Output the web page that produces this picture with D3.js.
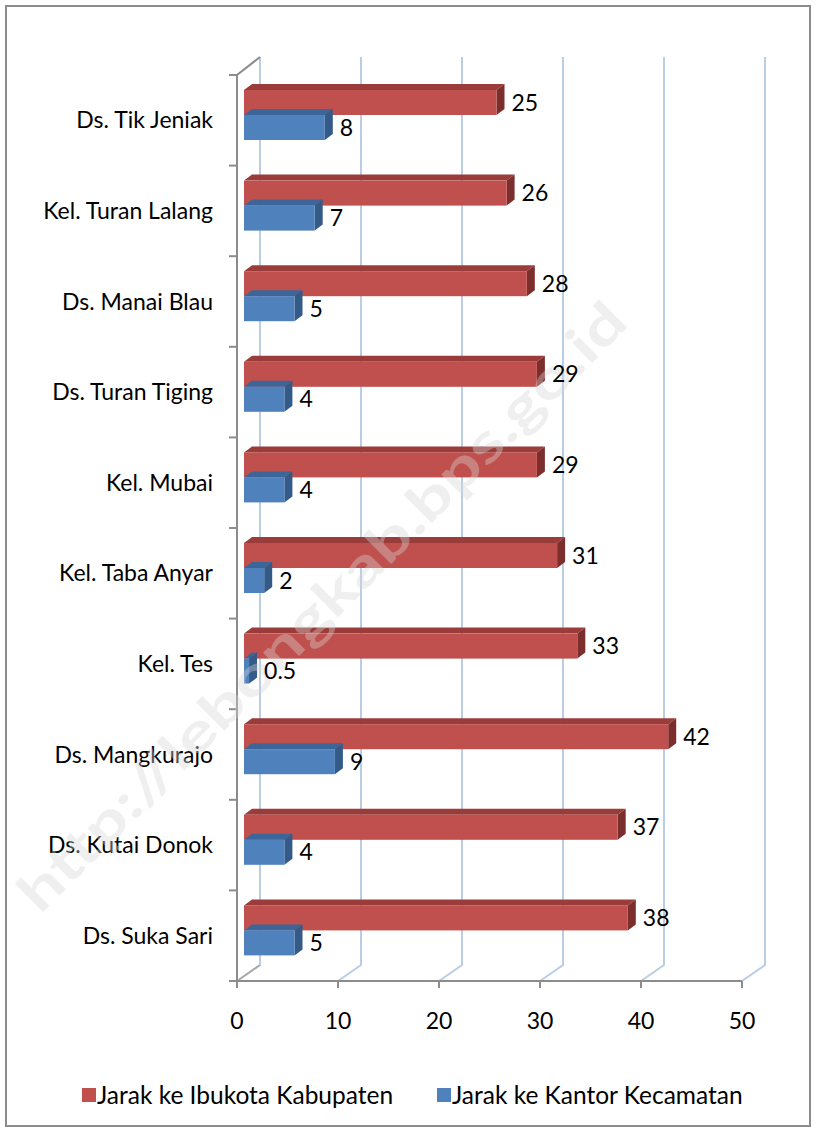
<!DOCTYPE html>
<html>
<head>
<meta charset="utf-8">
<script src="https://cdn.jsdelivr.net/npm/d3@7"></script>
<style>
body { margin: 0; background: #fff; }
text { font-family: Lato, "Open Sans", sans-serif; }
</style>
</head>
<body>
<script>
const categories = ["Ds. Tik Jeniak", "Kel. Turan Lalang", "Ds. Manai Blau", "Ds. Turan Tiging",
  "Kel. Mubai", "Kel. Taba Anyar", "Kel. Tes", "Ds. Mangkurajo", "Ds. Kutai Donok", "Ds. Suka Sari"];
const kabupaten = [25, 26, 28, 29, 29, 31, 33, 42, 37, 38];
const kecamatan = [8, 7, 5, 4, 4, 2, 0.5, 9, 4, 5];
const xTicks = [0, 10, 20, 30, 40, 50];
const seriesNames = ["Jarak ke Ibukota Kabupaten", "Jarak ke Kantor Kecamatan"];

const W = 816, H = 1131;
const svg = d3.select("body").append("svg")
  .attr("width", W).attr("height", H);

// outer border
svg.append("rect")
  .attr("x", 6).attr("y", 6).attr("width", 804).attr("height", 1120)
  .attr("fill", "#fff").attr("stroke", "#8c8c8c").attr("stroke-width", 2);

const x = d3.scaleLinear().domain([0, 50]).range([237, 742]);
const y = d3.scaleBand().domain(categories).range([75, 981]);
const floorY = 981, topY = 57;
const back = {dx: 23, dy: -16};   // back wall offset
const barShift = 7;                // bars sit a bit behind the front plane
const dep = {dx: 8, dy: -6};      // bar depth

// gridlines on back wall + floor
const grid = svg.append("g");
xTicks.forEach(t => {
  const xf = x(t), xb = x(t) + back.dx;
  grid.append("path")
    .attr("d", `M${xf},${floorY}L${xb},${floorY + back.dy}L${xb},${topY}`)
    .attr("fill", "none")
    .attr("stroke", t === 0 ? "#a9a9a9" : "#b9cde5")
    .attr("stroke-width", 2);
  if (t === 0) {
    grid.append("line")
      .attr("x1", xb).attr("x2", xb).attr("y1", floorY + back.dy).attr("y2", topY)
      .attr("stroke", "#b9cde5").attr("stroke-width", 2);
  }
});

// axes
const axisG = svg.append("g").attr("stroke", "#8c8c8c").attr("stroke-width", 2).attr("fill", "none");
axisG.append("path")
  .attr("d", `M${x(0) + back.dx},${topY}L${x(0)},${y.range()[0]}L${x(0)},${floorY}L${x(50)},${floorY}`);
d3.range(categories.length + 1).forEach(i => {
  const yy = y.range()[0] + i * y.step();
  axisG.append("line").attr("x1", x(0) - 8).attr("x2", x(0)).attr("y1", yy).attr("y2", yy);
});
xTicks.forEach(t => {
  axisG.append("line").attr("x1", x(t)).attr("x2", x(t)).attr("y1", floorY).attr("y2", floorY + 7);
});

svg.append("g").selectAll("text").data(xTicks).join("text")
  .attr("x", d => x(d)).attr("y", 1029)
  .attr("text-anchor", "middle").attr("font-size", 23).attr("fill", "#000")
  .text(d => d);

svg.append("g").selectAll("text").data(categories).join("text")
  .attr("x", 213).attr("y", d => y(d) + y.bandwidth() / 2 + 8)
  .attr("text-anchor", "end").attr("font-size", 23).attr("fill", "#000")
  .text(d => d);

// 3D bars
const colors = [
  {front: "#c0504d", top: "#9a3c39", side: "#7c2e2c"},
  {front: "#4f81bd", top: "#3c669a", side: "#345a87"}
];
const barH = 25;
const bars = svg.append("g");
const labels = [];
function bar3d(v, yTop, c) {
  const x0 = x(0) + barShift, x1 = x(v) + barShift;
  const g = bars.append("g");
  g.append("path")
    .attr("d", `M${x0},${yTop}L${x0 + dep.dx},${yTop + dep.dy}L${x1 + dep.dx},${yTop + dep.dy}L${x1},${yTop}Z`)
    .attr("fill", c.top);
  g.append("path")
    .attr("d", `M${x1},${yTop}L${x1 + dep.dx},${yTop + dep.dy}L${x1 + dep.dx},${yTop + barH + dep.dy}L${x1},${yTop + barH}Z`)
    .attr("fill", c.side);
  g.append("rect")
    .attr("x", x0).attr("y", yTop).attr("width", x1 - x0).attr("height", barH)
    .attr("fill", c.front);
  labels.push({v, x: x1 + dep.dx + 7, y: yTop + barH / 2 + 8});
}
categories.forEach((cat, i) => {
  const b = y(cat);
  bar3d(kabupaten[i], b + 15, colors[0]);
  bar3d(kecamatan[i], b + 40, colors[1]);
});

// watermark
svg.append("text")
  .attr("transform", "translate(40,915) rotate(-45)")
  .attr("font-size", 54).attr("font-weight", "bold")
  .attr("fill", "#d4d4d4").attr("fill-opacity", 0.38)
  .attr("textLength", 835).attr("lengthAdjust", "spacingAndGlyphs")
  .text("http://lebongkab.bps.go.id");

svg.append("g").selectAll("text").data(labels).join("text")
  .attr("x", d => d.x).attr("y", d => d.y)
  .attr("font-size", 23).attr("fill", "#000")
  .text(d => d.v);

// legend
const leg = svg.append("g");
const legX = [82, 437];
seriesNames.forEach((n, i) => {
  leg.append("rect").attr("x", legX[i]).attr("y", 1088).attr("width", 14).attr("height", 14)
    .attr("fill", colors[i].front);
  leg.append("text").attr("x", legX[i] + 15).attr("y", 1104)
    .attr("font-size", 24.5).attr("fill", "#000").text(n);
});
</script>
</body>
</html>
